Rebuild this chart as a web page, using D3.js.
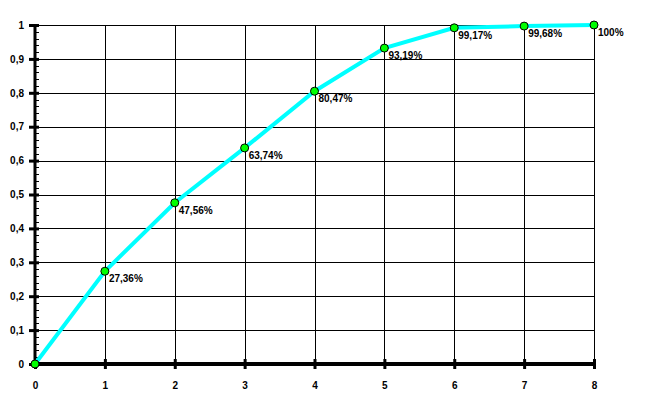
<!DOCTYPE html>
<html>
<head>
<meta charset="utf-8">
<script src="https://cdn.jsdelivr.net/npm/d3@7"></script>
<style>
  body { margin: 0; background: #fff; }
  text { font-family: "Liberation Sans", Arial, sans-serif; font-weight: bold; }
</style>
</head>
<body>
<svg id="chart"></svg>
<script>
const steps = [0, 1, 2, 3, 4, 5, 6, 7, 8];
const cumShare = [0, 0.2736, 0.4756, 0.6374, 0.8047, 0.9319, 0.9917, 0.9968, 1];
const pointLabels = ["", "27,36%", "47,56%", "63,74%", "80,47%", "93,19%", "99,17%", "99,68%", "100%"];
const yTicks = [0, 0.1, 0.2, 0.3, 0.4, 0.5, 0.6, 0.7, 0.8, 0.9, 1];

const dims = { width: 645, height: 398, left: 35, right: 594, top: 25, bottom: 364 };

const svg = d3.select("#chart")
  .attr("width", dims.width)
  .attr("height", dims.height);

const x = d3.scaleLinear().domain([0, 8]).range([dims.left, dims.right]);
const y = d3.scaleLinear().domain([0, 1]).range([dims.bottom, dims.top]);

const fmt = (d) => (d === 0 || d === 1) ? String(d) : d3.format(".1f")(d).replace(".", ",");

// grid
const grid = svg.append("g").attr("shape-rendering", "crispEdges");
grid.selectAll("line.h").data(yTicks.slice(1)).enter().append("line")
  .attr("x1", dims.left).attr("x2", dims.right)
  .attr("y1", (d) => Math.round(y(d)) + 0.5).attr("y2", (d) => Math.round(y(d)) + 0.5)
  .attr("stroke", "#000").attr("stroke-width", 1);
grid.selectAll("line.v").data(steps.slice(1)).enter().append("line")
  .attr("x1", (d) => Math.round(x(d)) + 0.5).attr("x2", (d) => Math.round(x(d)) + 0.5)
  .attr("y1", dims.top).attr("y2", dims.bottom)
  .attr("stroke", "#000").attr("stroke-width", 1);

// y axis: minor ticks to the right
const minor = d3.range(0, 1.0001, 0.02);
svg.append("g").attr("shape-rendering", "crispEdges")
  .selectAll("line").data(minor).enter().append("line")
  .attr("x1", dims.left).attr("x2", dims.left + 4)
  .attr("y1", (d) => Math.round(y(d)) + 0.5).attr("y2", (d) => Math.round(y(d)) + 0.5)
  .attr("stroke", "#000").attr("stroke-width", 1.5);

// y axis major ticks + labels
svg.append("g")
  .attr("transform", `translate(${dims.left},0)`)
  .call(d3.axisLeft(y).tickValues(yTicks).tickFormat(fmt).tickSize(6).tickPadding(5))
  .call((g) => {
    g.select("path.domain").remove();
    g.selectAll(".tick line").attr("stroke", "#000").attr("stroke-width", 3).attr("x2", 4).attr("x1", -6);
    g.selectAll(".tick text").attr("font-size", 10).attr("fill", "#000")
      .attr("font-family", "Liberation Sans, Arial, sans-serif").attr("font-weight", "bold")
      .attr("x", -11);
  });
svg.append("line")
  .attr("x1", dims.left).attr("x2", dims.left)
  .attr("y1", dims.top).attr("y2", dims.bottom + 2)
  .attr("stroke", "#000").attr("stroke-width", 3);

// x axis
svg.append("g")
  .attr("transform", `translate(0,${dims.bottom})`)
  .call(d3.axisBottom(x).tickValues(steps).tickFormat(d3.format("d")).tickSize(5).tickPadding(13))
  .call((g) => {
    g.select("path.domain").remove();
    g.selectAll(".tick line").attr("stroke", "#000").attr("stroke-width", 3).attr("y1", -5).attr("y2", 5);
    g.selectAll(".tick text").attr("font-size", 10).attr("fill", "#000")
      .attr("font-family", "Liberation Sans, Arial, sans-serif").attr("font-weight", "bold");
  });
svg.append("line")
  .attr("x1", dims.left).attr("x2", dims.right + 1)
  .attr("y1", dims.bottom).attr("y2", dims.bottom)
  .attr("stroke", "#000").attr("stroke-width", 4);

// curve
const pts = steps.map((s, i) => ({ s, v: cumShare[i], label: pointLabels[i] }));
svg.append("path")
  .datum(pts)
  .attr("fill", "none")
  .attr("stroke", "#00ffff")
  .attr("stroke-width", 4)
  .attr("d", d3.line().x((d) => x(d.s)).y((d) => y(d.v)));

svg.append("g").selectAll("circle").data(pts).enter().append("circle")
  .attr("cx", (d) => x(d.s)).attr("cy", (d) => y(d.v)).attr("r", 4)
  .attr("fill", "#00ff00").attr("stroke", "#000").attr("stroke-width", 1);

svg.append("g").selectAll("text").data(pts).enter().append("text")
  .attr("x", (d) => x(d.s) + 4).attr("y", (d) => y(d.v) + 11)
  .attr("font-size", 10).attr("fill", "#000")
  .text((d) => d.label);
</script>
</body>
</html>
